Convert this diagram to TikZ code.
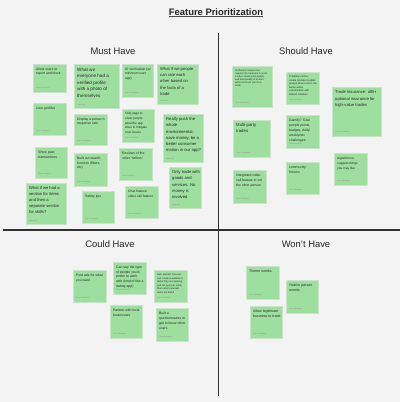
\documentclass[tikz,border=0pt]{standalone}
\usepackage{fontspec}
\setmainfont{Liberation Sans}
\usetikzlibrary{positioning}

\definecolor{notegreen}{RGB}{158,223,160}
\definecolor{noteedge}{RGB}{200,228,201}
\definecolor{boardbg}{RGB}{243,243,243}
\definecolor{ink}{RGB}{48,48,48}

\tikzset{
  note/.style={fill=notegreen, draw=noteedge, line width=0.5pt, inner sep=0pt, anchor=north west},
  notetext/.style={anchor=north west, inner sep=0pt, align=left, text=black!85},
  notename/.style={anchor=south west, inner sep=0pt, font=\fontsize{1.8}{2}\selectfont, text=black!45},
  quadlabel/.style={font=\fontsize{9.4}{11}\selectfont, text=black!85},
}

% name, x, y, width, height, font size, line skip, text, author
\newcommand{\sticky}[9]{%
  \node[note, minimum width=#4pt, minimum height=#5pt] (#1) at (#2,#3) {};
  \node[notetext, font=\fontsize{#6}{#7}\selectfont] (#1-text) at ([xshift=3pt,yshift=-3.5pt]#1.north west) {#8};
  \node[notename] (#1-name) at ([xshift=3pt,yshift=3pt]#1.south west) {#9};
}

\begin{document}
\begin{tikzpicture}[x=1pt, y=-1pt]
  \fill[boardbg] (0,0) rectangle (400,402);
  \useasboundingbox (0,0) rectangle (400,402);

  \node[inner sep=0pt, font=\bfseries\fontsize{9.4}{11}\selectfont, text=black!85] (title) at (216,12) {Feature Prioritization};
  \draw[black!70, line width=0.7pt] ([yshift=-1.3pt]title.base west) -- ([yshift=-1.3pt]title.base east);

  \draw[ink, line width=1.6pt] (3,230) -- (400,230);
  \draw[ink, line width=1.4pt] (218.5,33) -- (218.5,396);

  \node[quadlabel] (must) at (113,51) {Must Have};
  \node[quadlabel] (should) at (306,51) {Should Have};
  \node[quadlabel] (could) at (110,244) {Could Have};
  \node[quadlabel] (wont) at (306,244) {Won't Have};

  % must have
  \sticky{report}{33}{64}{33}{28}{3.4}{4.7}{Allow users to\\report and block}{Clara Pellegrino}
  \sticky{verified}{74}{64}{45}{44}{4.6}{6.6}{What we\\everyone had a\\verified profile\\with a photo of\\themselves}{Jada Hall}
  \sticky{idcheck}{122}{64}{31}{33}{3.3}{4.7}{ID Verification (w/\\minimum user\\age)}{Clara Pellegrino}
  \sticky{rating}{157}{64}{41}{40}{4.15}{6.1}{What if we people\\can rate each\\other based on\\the facts of a\\trade}{Jada Hall}
  \sticky{profiles}{33}{103}{33}{32}{3.4}{4.7}{User profiles}{Clara Pellegrino}
  \sticky{response}{74}{114}{33}{31}{3.4}{4.7}{Display a person's\\response rate}{Clara Pellegrino}
  \sticky{faq}{122}{109}{32}{33}{3.1}{4.6}{FAQ page to\\show people\\what the app\\does to mitigate\\trust issues}{Clara Pellegrino}
  \sticky{green}{163}{114}{40}{48}{4.2}{6.2}{Really push the\\whole\\environmental,\\save money, be a\\better consumer\\motion in our app?}{Jada Hall}
  \sticky{history}{35}{147}{32}{31}{3.5}{5}{Show past\\transactions}{Clara Pellegrino}
  \sticky{search}{74}{153}{33}{33}{3.4}{4.9}{Built out search\\function (filters,\\etc)}{Clara Pellegrino}
  \sticky{reviews}{119}{148}{33}{32}{3.4}{5}{Reviews of the\\other “sellers”}{Clara Pellegrino}
  \sticky{barter}{169}{167}{32}{41}{4.15}{6.2}{Only trade with\\goods and\\services. No\\money is\\involved}{Jada Hall}
  \sticky{skills}{26}{183}{40}{41}{4.1}{5.9}{What if we had a\\section for items\\and then a\\separate section\\for skills?}{Jada Hall}
  \sticky{safety}{82}{191}{32}{32}{3.4}{4.7}{Safety tips}{Clara Pellegrino}
  \sticky{chat}{125}{186}{33}{32}{3.3}{5}{Chat feature/\\video call feature}{Clara Pellegrino}

  % should have
  \sticky{videoproof}{232}{66}{40}{41}{2.4}{3.1}{Verification feature that\\requires the barterers to send\\a video showing the quality\\and functionality of an item\\within 24 hours prior to a\\trade}{Tracy Candelaria}
  \sticky{circles}{286}{72}{33}{32}{2.6}{3.5}{Tradeline circles:\\create private or public\\groups where users can\\barter within\\communities with\\shared interests}{Tracy Candelaria}
  \sticky{insurance}{332}{87}{49}{49}{4.15}{6.3}{Trade Insurance: offer\\optional insurance for\\high-value trades}{Tracy Candelaria}
  \sticky{multiparty}{233}{120}{37}{37}{4.3}{5.8}{Multi-party\\trades}{Tracy Candelaria}
  \sticky{gamify}{286}{115}{33}{33}{3.4}{5}{Gamify? Give\\people points,\\badges, daily/\\weekly/etc\\challenges}{Clara Pellegrino}
  \sticky{vetcall}{233}{170}{33}{33}{3.4}{5}{Integrated video\\call feature to vet\\the other person}{Clara Pellegrino}
  \sticky{forums}{286}{162}{33}{32}{3.45}{5}{community\\forums}{Clara Pellegrino}
  \sticky{suggest}{334}{153}{33}{32}{3.2}{5}{Algorithm to\\suggest things\\you may like}{Clara Pellegrino}

  % could have
  \sticky{postads}{73}{270}{33}{32}{3.45}{5}{Post ads for what\\you want}{Clara Pellegrino}
  \sticky{matching}{113}{262}{33}{32}{3.45}{4.8}{Can say the type\\of people you'd\\prefer to work\\with (kind of like a\\dating app)}{Clara Pellegrino}
  \sticky{wishlist}{154}{270}{33}{32}{2.5}{3.5}{Item wishlist: the user\\can create a wishlist of\\items they are seeking\\and the app can notify\\them when relevant\\items are listed}{Clara Pellegrino}
  \sticky{partners}{110}{305}{32}{33}{3.43}{5}{Partner with local\\businesses}{Clara Pellegrino}
  \sticky{survey}{156}{308}{32}{33}{3.4}{5}{Built a\\questionnaires to\\get to know other\\users}{Clara Pellegrino}

  % won't have
  \sticky{themes}{246}{266}{33}{33}{3.6}{5}{Theme weeks}{Clara Pellegrino}
  \sticky{events}{286}{280}{32}{33}{3.6}{5}{Hold in person\\events}{Clara Pellegrino}
  \sticky{business}{250}{306}{32}{32}{3.6}{5}{Allow legitimate\\business to trade}{Clara Pellegrino}
\end{tikzpicture}
\end{document}
